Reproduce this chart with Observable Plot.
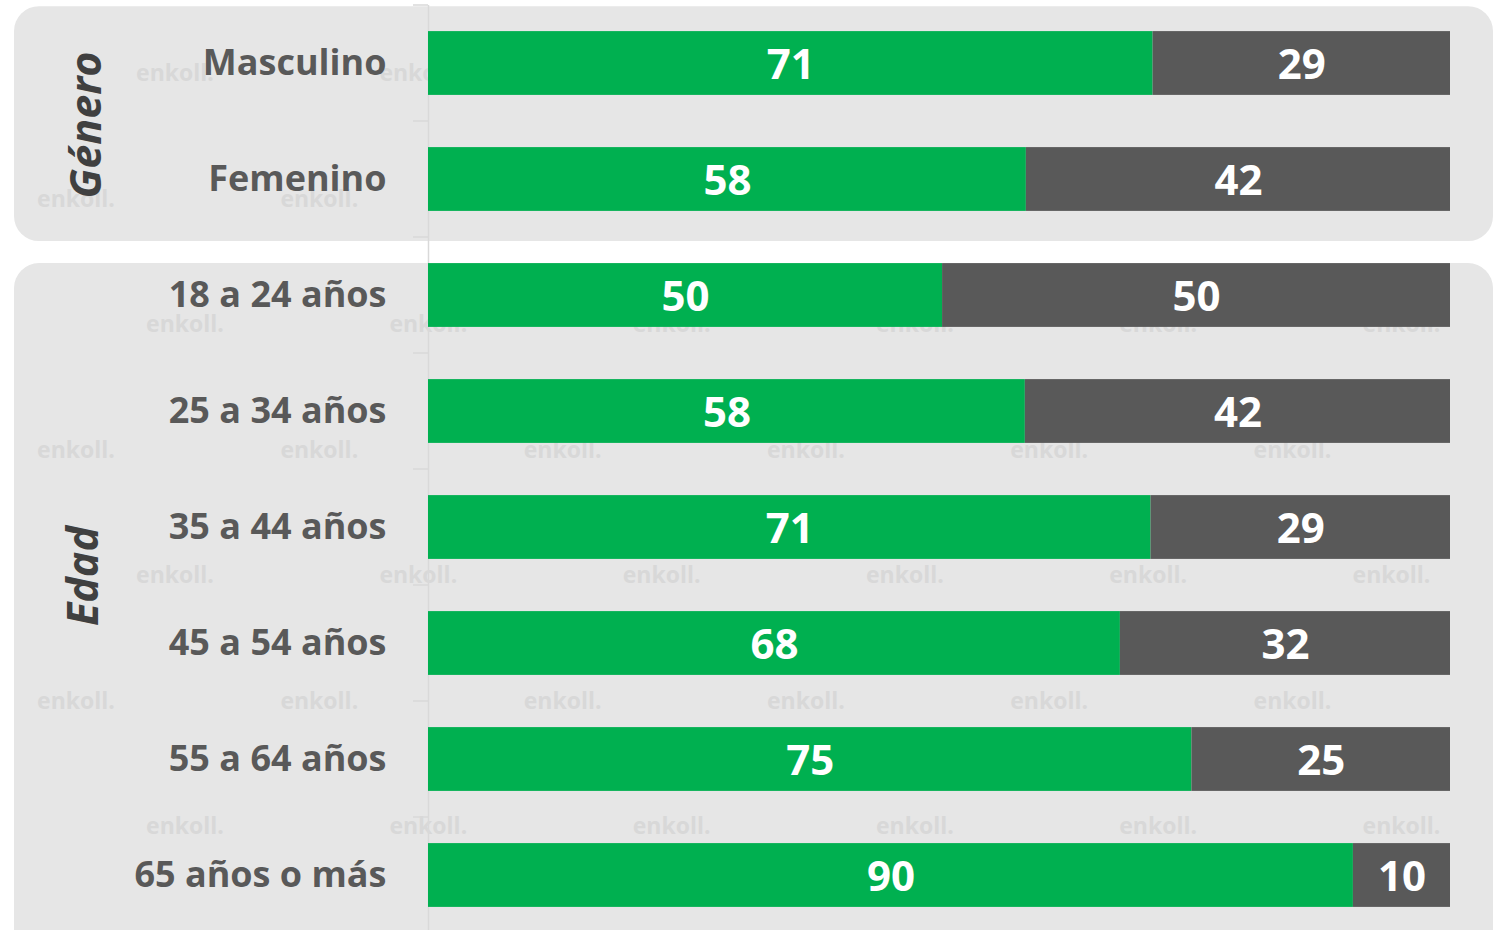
<!DOCTYPE html>
<html>
<head>
<meta charset="utf-8">
<script src="https://cdn.jsdelivr.net/npm/d3@7"></script>
<script src="https://cdn.jsdelivr.net/npm/@observablehq/plot@0.6"></script>
<style>
  html, body { margin: 0; padding: 0; background: #ffffff; }
  #chart { width: 1499px; height: 930px; overflow: hidden; }
</style>
</head>
<body>
<div id="chart"></div>
<script>
// ---- Data ----
const categories = ["Masculino", "Femenino", "18 a 24 años", "25 a 34 años", "35 a 44 años", "45 a 54 años", "55 a 64 años", "65 años o más"];
const groupOf = ["Género", "Género", "Edad", "Edad", "Edad", "Edad", "Edad", "Edad"];
const groupNames = ["Género", "Edad"];
const series = ["Sí", "No"];
// bar lengths and the labels printed on them
const siValues = [70.9, 58.5, 50.3, 58.4, 70.7, 67.7, 74.7, 90.5];
const noValues = [29.1, 41.5, 49.7, 41.6, 29.3, 32.3, 25.3, 9.5];
const siLabels = ["71", "58", "50", "58", "71", "68", "75", "90"];
const noLabels = ["29", "42", "50", "42", "29", "32", "25", "10"];
const seriesColors = ["#00b050", "#595959"];
const watermark = "enkoll.";

const data = [];
categories.forEach((c, i) => {
  data.push({cat: c, serie: series[0], value: siValues[i], label: siLabels[i]});
  data.push({cat: c, serie: series[1], value: noValues[i], label: noLabels[i]});
});

const W = 1499, H = 930;
const FONT = "'Open Sans', 'Noto Sans', sans-serif";

const chart = Plot.plot({
  width: W,
  height: H,
  marginLeft: 428,
  marginRight: 49,
  marginTop: 5,
  marginBottom: 0,
  style: {fontFamily: FONT, fontSize: "36px", fontWeight: "bold", color: "#595959", background: "transparent", overflow: "visible"},
  x: {domain: [0, 100], axis: null},
  y: {domain: categories, range: [5, 933], paddingInner: 0.45, paddingOuter: 0.225, round: false, label: null, tickSize: 0, tickPadding: 42},
  color: {domain: series, range: seriesColors},
  marks: [
    Plot.ruleX([0], {stroke: "#d9d9d9", strokeWidth: 1.5}),
    Plot.barX(data, {x: "value", y: "cat", fill: "serie", order: series}),
    Plot.text(data, Plot.stackX({x: "value", y: "cat", z: "serie", order: series, text: "label", fill: "white", fontSize: 42, fontWeight: 700, dy: 2}))
  ]
});

// ---- Decorations drawn from the y scale ----
const ys = chart.scale("y");
const yb = d3.scaleBand().domain(ys.domain).range(ys.range)
  .paddingInner(ys.paddingInner).paddingOuter(ys.paddingOuter).align(ys.align ?? 0.5);
const step = yb.step(), bw = yb.bandwidth();
const center = c => yb(c) + bw / 2;
const ns = "http://www.w3.org/2000/svg";
const bg = document.createElementNS(ns, "g");

// panels
groupNames.forEach((g, gi) => {
  const cats = categories.filter((c, i) => groupOf[i] === g);
  const top = gi === 0 ? center(cats[0]) - step * 0.49 : center(cats[0]) - bw / 2;
  const bottom = gi === 0 ? center(cats[cats.length - 1]) + step * 0.535 : H + 40;
  const r = document.createElementNS(ns, "rect");
  r.setAttribute("x", 14);
  r.setAttribute("y", top);
  r.setAttribute("width", W - 6 - 14);
  r.setAttribute("height", bottom - top);
  r.setAttribute("rx", 25);
  r.setAttribute("fill", "#e6e6e6");
  bg.appendChild(r);
});

// watermarks
const wmRows = [0, 1, 2, 1, 0, 1, 2];
const wmStarts = [175, 76, 185];
wmRows.forEach((t, ri) => {
  const yy = 75 + ri * 125.5;
  for (let k = 0; k < 6; k++) {
    const tx = document.createElementNS(ns, "text");
    tx.setAttribute("x", wmStarts[t] + k * 243.3);
    tx.setAttribute("y", yy);
    tx.setAttribute("text-anchor", "middle");
    tx.setAttribute("dominant-baseline", "middle");
    tx.setAttribute("font-family", FONT);
    tx.setAttribute("font-size", 23);
    tx.setAttribute("font-weight", 700);
    tx.setAttribute("fill", "#d8d8d8");
    tx.textContent = watermark;
    bg.appendChild(tx);
  }
});

const styleEl = chart.querySelector("style");
chart.insertBefore(bg, styleEl ? styleEl.nextSibling : chart.firstChild);

// ticks at category boundaries
const fg = document.createElementNS(ns, "g");
for (let i = 0; i <= categories.length; i++) {
  const yy = (i < categories.length ? center(categories[i]) - step / 2 : center(categories[i - 1]) + step / 2);
  const l = document.createElementNS(ns, "line");
  l.setAttribute("x1", 413); l.setAttribute("x2", 428);
  l.setAttribute("y1", yy); l.setAttribute("y2", yy);
  l.setAttribute("stroke", "#d9d9d9"); l.setAttribute("stroke-width", 1.5);
  fg.appendChild(l);
}
// group labels
groupNames.forEach((g, gi) => {
  const cats = categories.filter((c, i) => groupOf[i] === g);
  const mid = (center(cats[0]) + center(cats[cats.length - 1])) / 2 + (gi === 0 ? 4 : -9);
  const tx = document.createElementNS(ns, "text");
  const cx = gi === 0 ? 84 : 81;
  tx.setAttribute("transform", `translate(${cx},${mid}) rotate(-90)`);
  tx.setAttribute("text-anchor", "middle");
  tx.setAttribute("dominant-baseline", "central");
  tx.setAttribute("font-family", FONT);
  tx.setAttribute("font-size", 43);
  tx.setAttribute("font-style", "italic");
  tx.setAttribute("font-weight", 700);
  tx.setAttribute("fill", "#404040");
  tx.textContent = g;
  fg.appendChild(tx);
});
chart.appendChild(fg);

document.getElementById("chart").appendChild(chart);
</script>
</body>
</html>
